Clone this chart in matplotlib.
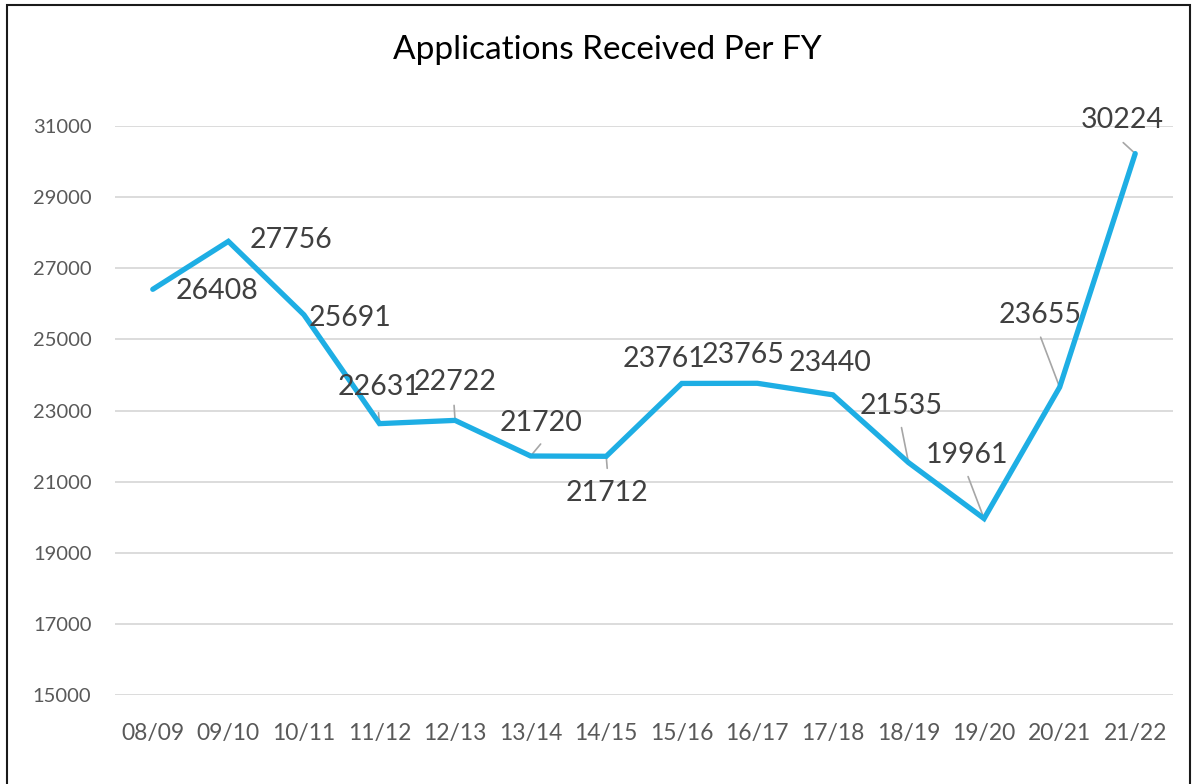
import matplotlib
matplotlib.use("Agg")
import matplotlib.pyplot as plt
from matplotlib.patches import Rectangle

categories = ["08/09", "09/10", "10/11", "11/12", "12/13", "13/14", "14/15",
              "15/16", "16/17", "17/18", "18/19", "19/20", "20/21", "21/22"]
applications = [26408, 27756, 25691, 22631, 22722, 21720, 21712,
                23761, 23765, 23440, 21535, 19961, 23655, 30224]
y_ticks = [15000, 17000, 19000, 21000, 23000, 25000, 27000, 29000, 31000]

# label offsets (pixels) from each point: (dx, dy), screen y up
label_offsets = [(64, -2), (63, 1), (46, -3), (0, 37), (0, 38), (10, 33),
                 (1, -37), (-18, 24), (-14, 28), (-3, 32), (-7, 57),
                 (-17, 64), (-20, 72), (-13, 34)]
# leader line starts (pixels offset from point), None = no leader
leaders = [None, None, None, (-1, 11), (-1, 15), (10, 12), (1, -12), None, None,
           None, (-7, 35), (-16, 42), (-19, 50), (-12, 11)]

W, H = 1193, 784
fig = plt.figure(figsize=(W / 100, H / 100), dpi=100)
fig.patch.set_facecolor("white")
font = ["Lato", "DejaVu Sans"]

ax = fig.add_axes([115 / W, 1 - 695 / H, (1173 - 115) / W, (695 - 126) / H])
x = list(range(len(categories)))
ax.plot(x, applications, color="#1EAEE4", lw=3.8, solid_joinstyle="miter",
        solid_capstyle="round", zorder=3)

ax.set_xlim(-0.5, len(categories) - 0.5)
ax.set_ylim(15000, 31000)
ax.set_yticks(y_ticks)
ax.set_yticklabels([str(v) for v in y_ticks], fontfamily=font, fontsize=14.5, color="#595959")
ax.set_xticks(x)
ax.set_xticklabels(categories, fontfamily=font, fontsize=16.5, color="#595959")
ax.tick_params(axis="both", length=0)
ax.tick_params(axis="y", pad=17)
ax.tick_params(axis="x", pad=20)
ax.grid(axis="y", color="#D9D9D9", lw=1.3)
ax.set_axisbelow(True)
for s in ax.spines.values():
    s.set_visible(False)

for i, v in enumerate(applications):
    dx, dy = label_offsets[i]
    ax.annotate(str(v), (i, v), xytext=(dx, dy), textcoords="offset pixels",
                ha="center", va="center", fontsize=20.5, color="#404040",
                fontfamily=font, annotation_clip=False, zorder=4)
    if leaders[i] is not None:
        lx, ly = leaders[i]
        ax.annotate("", (i, v), xytext=(lx, ly), textcoords="offset pixels",
                    arrowprops=dict(arrowstyle="-", color="#A6A6A6", lw=1.2,
                                    shrinkA=0, shrinkB=0),
                    annotation_clip=False, zorder=2)

fig.text(607 / W, 1 - 50 / H, "Applications Received Per FY", ha="center", va="center",
         fontsize=24, color="black", fontfamily=font)

fig.patches.append(Rectangle((7 / W, -0.01), (1190 - 7) / W, 1.01 - 5 / H,
                             transform=fig.transFigure, fill=False,
                             edgecolor="#1a1a1a", lw=1.5))

fig.savefig("out.png", dpi=100)
